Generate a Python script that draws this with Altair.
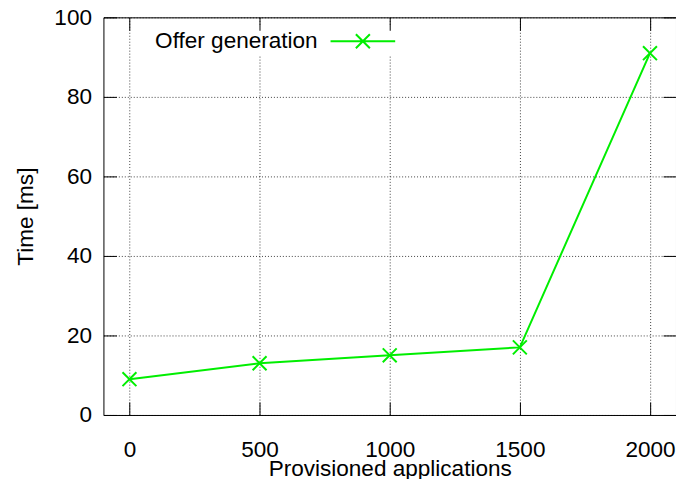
import altair as alt
import pandas as pd

# ---- data ----
apps = [0, 500, 1000, 1500, 2000]
times = [9, 13, 15, 17, 91]
series = ["Offer generation"] * 5
x_ticks = [0, 500, 1000, 1500, 2000]
y_ticks = [0, 20, 40, 60, 80, 100]

df = pd.DataFrame({"apps": apps, "time": times, "series": series})

FONT = "Liberation Sans"
FS = 22.7
GREEN = "#00ee00"
XSHAPE = "M-1,-1L1,1M-1,1L1,-1"
LEGSHAPE = "M-3,0H3M-0.65,-0.65L0.65,0.65M-0.65,0.65L0.65,-0.65"

xscale = alt.Scale(domain=[-100, 2100], nice=False, zero=False)
yscale = alt.Scale(domain=[0, 100], nice=False, zero=False)

main_x = alt.Axis(
    values=x_ticks, orient="bottom", grid=True, gridDash=[1, 2], gridColor="#000000",
    gridOpacity=0.75, gridWidth=1, ticks=False, tickSize=0, domain=False,
    labelFont=FONT, labelFontSize=FS, labelColor="black", labelPadding=42,
    labelBaseline="alphabetic", labelFlush=False, format="d",
    title="Provisioned applications", titleFont=FONT, titleFontSize=FS,
    titleFontWeight="normal", titleColor="black", titleBaseline="alphabetic",
    titleY=61, zindex=0,
)
main_y = alt.Axis(
    values=y_ticks, orient="left", grid=True, gridDash=[1, 2], gridColor="#000000",
    gridOpacity=0.75, gridWidth=1, ticks=False, tickSize=0, domain=False,
    labelFont=FONT, labelFontSize=FS, labelColor="black", labelPadding=12,
    labelFlush=False, format="d",
    title="Time [ms]", titleFont=FONT, titleFontSize=FS, titleFontWeight="normal",
    titleColor="black", titleX=-78, titleY=200, titleAngle=270,
    titleBaseline="middle", zindex=0,
)


def tick_axis(orient, vals):
    return alt.Axis(
        values=vals, orient=orient, offset=-13, tickSize=13, ticks=True,
        tickColor="black", tickWidth=1, labels=False, domain=False, grid=False,
        title="", zindex=2,
    )


base = alt.Chart(df)

line = base.mark_line(
    strokeWidth=2,
    point=alt.OverlayMarkDef(shape=XSHAPE, size=196, filled=False, strokeWidth=2),
).encode(
    x=alt.X("apps:Q", scale=xscale, axis=main_x),
    y=alt.Y("time:Q", scale=yscale, axis=main_y),
    color=alt.Color(
        "series:N",
        scale=alt.Scale(range=[GREEN]),
        legend=alt.Legend(
            orient="none", legendX=49, legendY=9, title="Offer generation",
            titleOrient="left", titleFont=FONT, titleFontSize=FS,
            titleFontWeight="normal", titleColor="black", titleBaseline="middle",
            titlePadding=33, labelExpr="''", labelOffset=30,
            symbolType=LEGSHAPE, symbolSize=470, symbolStrokeWidth=2,
            symbolFillColor="transparent", fillColor="white", padding=3,
            zindex=1,
        ),
    ),
)

ticks_bl = base.mark_point(opacity=0).encode(
    x=alt.X("apps:Q", scale=xscale, axis=tick_axis("bottom", x_ticks)),
    y=alt.Y("time:Q", scale=yscale, axis=tick_axis("left", y_ticks)),
)
ticks_tr = base.mark_point(opacity=0).encode(
    x=alt.X("apps:Q", scale=xscale, axis=tick_axis("top", x_ticks)),
    y=alt.Y("time:Q", scale=yscale, axis=tick_axis("right", y_ticks)),
)

chart = (
    alt.layer(line, ticks_bl, ticks_tr)
    .resolve_axis(x="independent", y="independent")
    .properties(
        width=576, height=400,
        autosize=alt.AutoSizeParams(type="none"),
        padding={"left": 96, "top": 8, "right": 0, "bottom": 63},
        background="white",
    )
    .configure_view(stroke="black", strokeWidth=1)
)

chart.save("out.html", embed_options={"renderer": "svg", "actions": False})
